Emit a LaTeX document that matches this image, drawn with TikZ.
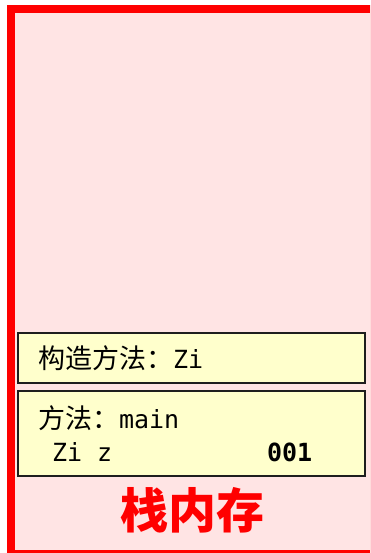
\documentclass[tikz,border=0pt]{standalone}
\usepackage{fontspec}
\newfontfamily\cjk{Noto Sans CJK SC}
\newfontfamily\mono{DejaVu Sans Mono}
\definecolor{stackpink}{RGB}{255,228,228}
\definecolor{frameyellow}{RGB}{255,255,204}
\definecolor{framered}{RGB}{255,0,0}
\definecolor{edgegray}{RGB}{30,30,30}
\tikzset{
  stackbox/.style={draw=framered, fill=stackpink, line width=8pt},
  framebox/.style={draw=edgegray, fill=frameyellow, line width=2pt},
  boxtext/.style={anchor=base west, inner sep=0pt, outer sep=0pt, text=black},
  titletext/.style={anchor=center, inner sep=0pt, text=framered}
}
\begin{document}
\begin{tikzpicture}[x=1pt,y=-1pt]
\useasboundingbox (0,0) rectangle (370,553);
\clip (0,0) rectangle (370,553);
% stack memory area
\draw[stackbox] (10.5,9) rectangle (373.5,553.5);
% frames
\draw[framebox] (18,333) rectangle (364.5,383);
\draw[framebox] (18,391) rectangle (364.5,476);
% texts
\node[boxtext] (ctor) at (38,368) {\fontsize{27}{30}\cjk 构造方法：\fontsize{25}{30}\mono Zi};
\node[boxtext] (mainm) at (38,428) {\fontsize{27}{30}\cjk 方法：\fontsize{25}{30}\mono main};
\node[boxtext] (var) at (52,461) {\fontsize{25}{30}\mono Zi z};
\node[boxtext] (val) at (267,461) {\fontsize{25}{30}\mono\bfseries 001};
\node[titletext] (title) at (192,510) {\fontsize{48}{52}\cjk\bfseries 栈内存};
\end{tikzpicture}
\end{document}
